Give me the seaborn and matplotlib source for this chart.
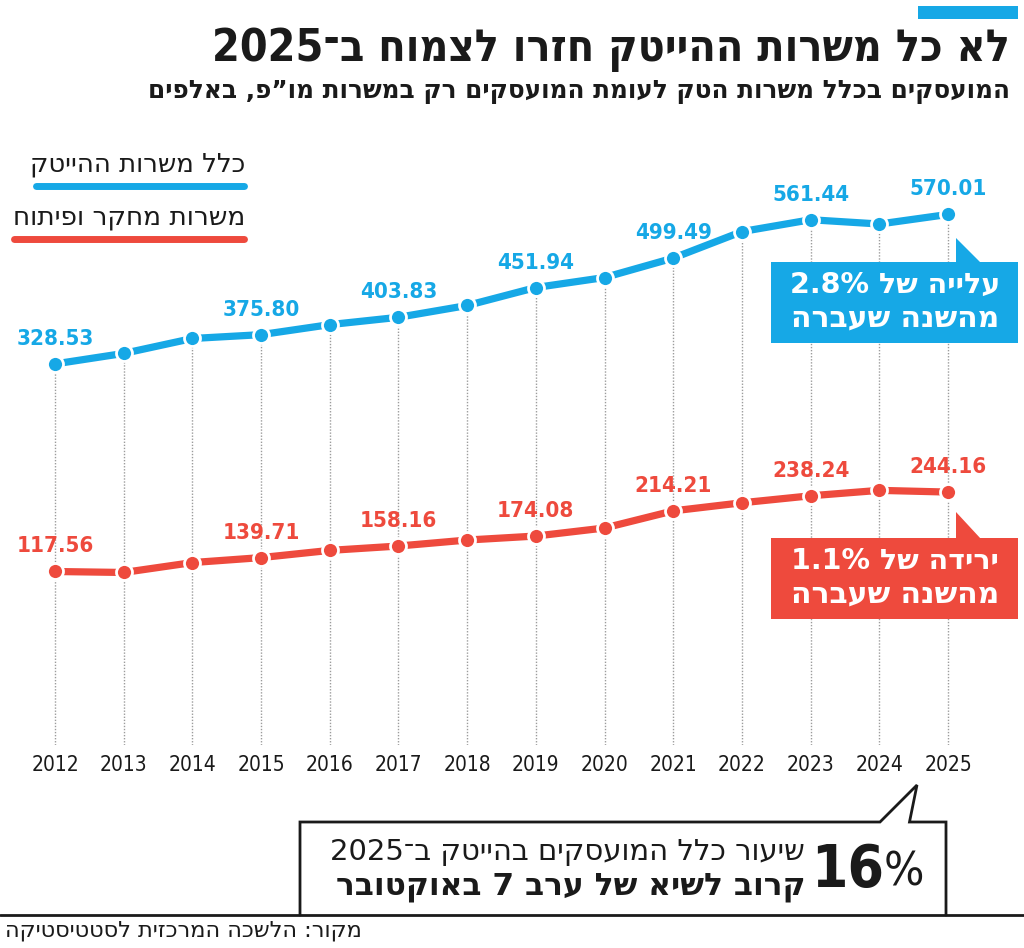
import re
import pandas as pd
import seaborn as sns
import matplotlib
matplotlib.use('Agg')
import matplotlib.pyplot as plt
from matplotlib.patches import Polygon, Rectangle

# נתונים (באלפים)
years = list(range(2012, 2026))
hitech = [328.53, 345.5, 369.6, 375.80, 392.0, 403.83, 422.9, 451.94, 468.1, 499.49, 542.3, 561.44, 554.5, 570.01]
rnd = [117.56, 116.0, 131.8, 139.71, 151.2, 158.16, 167.7, 174.08, 186.9, 214.21, 227.1, 238.24, 246.9, 244.16]
label_years = [2012, 2015, 2017, 2019, 2021, 2023, 2025]

title = 'לא כל משרות ההייטק חזרו לצמוח ב־2025'
subtitle = 'המועסקים בכלל משרות הטק לעומת המועסקים רק במשרות מו”פ, באלפים'
legend_hitech = 'כלל משרות ההייטק'
legend_rnd = 'משרות מחקר ופיתוח'
up_note = ['עלייה של 2.8%', 'מהשנה שעברה']
down_note = ['ירידה של 1.1%', 'מהשנה שעברה']
box_big = '16'
box_lines = ['שיעור כלל המועסקים בהייטק ב־2025', 'קרוב לשיא של ערב 7 באוקטובר']
source = 'מקור: הלשכה המרכזית לסטטיסטיקה'

BLUE = '#16A8E6'
RED = '#EE4A3D'
FONT = ['DejaVu Sans']


def rtl(s):
    # matplotlib לא מטפל בכיווניות - הופכים ידנית ומשאירים מספרים כמו שהם
    r = s[::-1]
    return re.sub(r'[0-9.%]+', lambda m: m.group(0)[::-1], r)


sns.set_theme(style='white')
plt.rcParams['font.family'] = FONT

df = pd.DataFrame({'year': years, 'hitech': hitech, 'rnd': rnd})

fig = plt.figure(figsize=(10.24, 9.48), dpi=100)
ax = fig.add_axes([0, 203 / 948, 1, 745 / 948])
ax2 = ax.twinx()

ax.set_xlim(2011.199, 2026.106)
ax.set_ylim(-287.1, 916.4)
ax2.set_ylim(-159.0, 1028.5)

# קווי רשת מהנקודה הכחולה למטה
ax.vlines(df['year'], -287.1, df['hitech'], colors='#9c9c9c',
          linestyles=(0, (1, 1.2)), linewidth=1, zorder=1)

sns.lineplot(data=df, x='year', y='hitech', ax=ax, color=BLUE, linewidth=5.2,
             marker='o', markersize=11.5, markeredgecolor='white',
             markeredgewidth=2, zorder=3)
sns.lineplot(data=df, x='year', y='rnd', ax=ax2, color=RED, linewidth=5.2,
             marker='o', markersize=11.5, markeredgecolor='white',
             markeredgewidth=2, zorder=3)

for a, col, c in [(ax, 'hitech', BLUE), (ax2, 'rnd', RED)]:
    for y in label_years:
        v = df.loc[df['year'] == y, col].iloc[0]
        a.annotate(f'{v:.2f}', (y, v), xytext=(0, 18), textcoords='offset points',
                   ha='center', va='center', color=c, fontsize=16,
                   fontweight='bold', fontstretch='condensed')

for a in (ax, ax2):
    for s in a.spines.values():
        s.set_visible(False)
    a.set_xlabel('')
    a.set_ylabel('')
    a.set_yticks([])
ax.set_xticks(years)
ax.set_xticklabels([str(y) for y in years], fontsize=15, color='#1a1a1a',
                   fontstretch='condensed')
ax.tick_params(axis='x', length=0, pad=7)
ax2.tick_params(axis='x', length=0)

# שכבת טקסט ועיטורים בפיקסלים
ov = fig.add_axes([0, 0, 1, 1])
ov.set_xlim(0, 1024)
ov.set_ylim(948, 0)
ov.axis('off')

ov.add_patch(Rectangle((918, 6), 100, 13, color=BLUE, lw=0))
ov.text(1010, 50, rtl(title), ha='right', va='center', fontsize=32,
        fontweight='bold', fontstretch='condensed', color='#1a1a1a')
ov.text(1010, 92, rtl(subtitle), ha='right', va='center', fontsize=17.8,
        fontweight='bold', color='#1a1a1a')

ov.text(245, 164, rtl(legend_hitech), ha='right', va='center', fontsize=18.6, color='#1a1a1a')
ov.plot([36, 244], [185.5, 185.5], color=BLUE, lw=5, solid_capstyle='round')
ov.text(245, 217, rtl(legend_rnd), ha='right', va='center', fontsize=19, color='#1a1a1a')
ov.plot([14, 244], [239, 239], color=RED, lw=5, solid_capstyle='round')

# תיבות הערה
for col, top, apex, lines in [(BLUE, 262, 238, up_note), (RED, 538, 512, down_note)]:
    ov.add_patch(Rectangle((771, top), 247, 81, color=col, lw=0, zorder=5))
    ov.add_patch(Polygon([(955.5, apex), (955.5, top + 1), (981, top + 1)],
                         closed=True, color=col, lw=0, zorder=5))
    ov.text(895, top + 23, rtl(lines[0]), ha='center', va='center', fontsize=20.5,
            fontweight='bold', color='white', zorder=6)
    ov.text(895, top + 56, rtl(lines[1]), ha='center', va='center', fontsize=21.5,
            fontweight='bold', color='white', zorder=6)

# תיבה תחתונה
ov.plot([0, 1024], [915, 915], color='#1a1a1a', lw=2)
ov.plot([300, 300, 880, 917, 909.5, 946, 946], [915, 822, 822, 785, 822, 822, 915],
        color='#1a1a1a', lw=2, solid_joinstyle='miter')
ov.text(884, 870, box_big, ha='right', va='center', fontsize=42,
        fontweight='bold', fontstretch='condensed', color='#1a1a1a')
ov.text(884, 873, '%', ha='left', va='center', fontsize=34,
        fontstretch='condensed', color='#1a1a1a')
ov.text(805, 852, rtl(box_lines[0]), ha='right', va='center', fontsize=21, color='#1a1a1a')
ov.text(805, 887, rtl(box_lines[1]), ha='right', va='center', fontsize=22.5,
        fontweight='bold', color='#1a1a1a')

ov.text(5, 931, rtl(source), ha='left', va='center', fontsize=16.2, color='#1a1a1a')

fig.savefig('out.png', dpi=100)
